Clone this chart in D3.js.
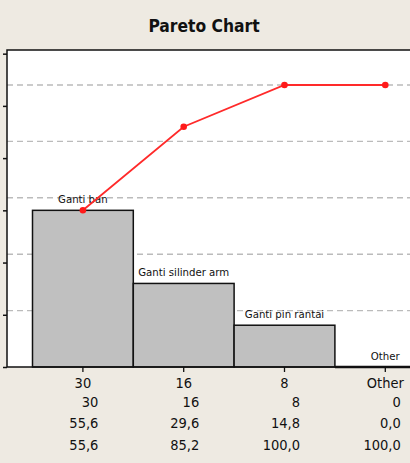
<!DOCTYPE html>
<html>
<head>
<meta charset="utf-8">
<script src="https://cdn.jsdelivr.net/npm/d3@7"></script>
<style>
html,body{margin:0;padding:0;background:#EEEAE2;}
svg{display:block;}
</style>
</head>
<body>
<svg id="chart" width="410" height="463"></svg>
<script>
// ---- data ----
const categories = ["Ganti ban", "Ganti silinder arm", "Ganti pin rantai", "Other"];
const tickLabels = ["30", "16", "8", "Other"];
const counts = [30, 16, 8, 0];
const percents = ["55,6", "29,6", "14,8", "0,0"];
const cumPercents = [55.6, 85.2, 100.0, 100.0];
const cumLabels = ["55,6", "85,2", "100,0", "100,0"];
const countTicks = [0, 10, 20, 30, 40, 50, 60];
const pctGrid = [20, 40, 60, 80, 100];
const totalCount = 54;

// ---- layout ----
const W = 410, H = 463;
const plot = {left: 7, top: 50, right: 462, bottom: 367};
const svg = d3.select("#chart");
const font = "'DejaVu Sans Condensed','DejaVu Sans',sans-serif";

svg.append("rect").attr("width", W).attr("height", H).attr("fill", "#EEEAE2");

const x = d3.scaleBand().domain(categories).range([32.5, 32.5 + 4 * 100.8]).padding(0);
const yCount = d3.scaleLinear().domain([0, totalCount]).range([plot.bottom, 85]);
const yPct = d3.scaleLinear().domain([0, 100]).range([plot.bottom, 85]);

// plot area
svg.append("rect")
  .attr("x", plot.left).attr("y", plot.top)
  .attr("width", plot.right - plot.left).attr("height", plot.bottom - plot.top)
  .attr("fill", "#fff");

// gridlines (percent)
svg.append("g").selectAll("line").data(pctGrid).join("line")
  .attr("x1", plot.left).attr("x2", plot.right)
  .attr("y1", d => yPct(d)).attr("y2", d => yPct(d))
  .attr("stroke", "#BBBBBB").attr("stroke-width", 1.4)
  .attr("stroke-dasharray", "6,4");

// bars
svg.append("g").selectAll("rect").data(categories).join("rect")
  .attr("x", d => x(d)).attr("width", x.bandwidth())
  .attr("y", (d, i) => yCount(counts[i]))
  .attr("height", (d, i) => plot.bottom - yCount(counts[i]))
  .attr("fill", "#C0C0C0").attr("stroke", "#111").attr("stroke-width", 1.5);

// bar labels
svg.append("g").selectAll("text").data(categories).join("text")
  .attr("x", d => x(d) + x.bandwidth() / 2)
  .attr("y", (d, i) => yCount(counts[i]) - 7)
  .attr("text-anchor", "middle")
  .attr("font-family", font).attr("font-size", 11.3).attr("fill", "#111")
  .text(d => d);

// zero-height bar baseline emphasis
svg.append("line")
  .attr("x1", x(categories[3])).attr("x2", x(categories[3]) + x.bandwidth())
  .attr("y1", plot.bottom).attr("y2", plot.bottom)
  .attr("stroke", "#111").attr("stroke-width", 2.5);

// plot border
svg.append("path")
  .attr("d", `M${plot.right},${plot.top}H${plot.left}V${plot.bottom}H${plot.right}`)
  .attr("fill", "none").attr("stroke", "#111").attr("stroke-width", 1.5);

// left count axis ticks
const ax = svg.append("g").attr("transform", `translate(${plot.left},0)`)
  .call(d3.axisLeft(yCount).tickValues(countTicks).tickSize(4).tickFormat(""));
ax.select(".domain").remove();
ax.selectAll("line").attr("stroke", "#111").attr("stroke-width", 1.5);

// bottom axis
const bx = svg.append("g").attr("transform", `translate(0,${plot.bottom})`)
  .call(d3.axisBottom(x).tickSize(5).tickFormat((d, i) => tickLabels[i]));
bx.select(".domain").remove();
bx.selectAll("line").attr("stroke", "#111").attr("stroke-width", 1.3);
bx.selectAll("text").attr("font-family", font).attr("font-size", 14.5)
  .attr("fill", "#111").attr("dy", null).attr("y", 20.5);

// cumulative line
const cx = d => x(d) + x.bandwidth() / 2;
svg.append("path")
  .datum(categories)
  .attr("d", d3.line().x(cx).y((d, i) => yPct(cumPercents[i])))
  .attr("fill", "none").attr("stroke", "#FF2A2A").attr("stroke-width", 1.8);
svg.append("g").selectAll("circle").data(categories).join("circle")
  .attr("cx", cx).attr("cy", (d, i) => yPct(cumPercents[i]))
  .attr("r", 3.3).attr("fill", "#FF1A1A");

// table rows
const rows = [
  {vals: counts.map(String), y: 407},
  {vals: percents, y: 428},
  {vals: cumLabels, y: 450}
];
rows.forEach(r => {
  svg.append("g").selectAll("text").data(categories).join("text")
    .attr("x", d => cx(d) + 15.5)
    .attr("y", r.y)
    .attr("text-anchor", "end")
    .attr("font-family", font).attr("font-size", 14.5).attr("fill", "#111")
    .text((d, i) => r.vals[i]);
});

// title
svg.append("text")
  .attr("x", 204).attr("y", 32)
  .attr("text-anchor", "middle")
  .attr("font-family", font).attr("font-weight", "bold").attr("font-size", 17.3)
  .attr("fill", "#111")
  .text("Pareto Chart");
</script>
</body>
</html>
